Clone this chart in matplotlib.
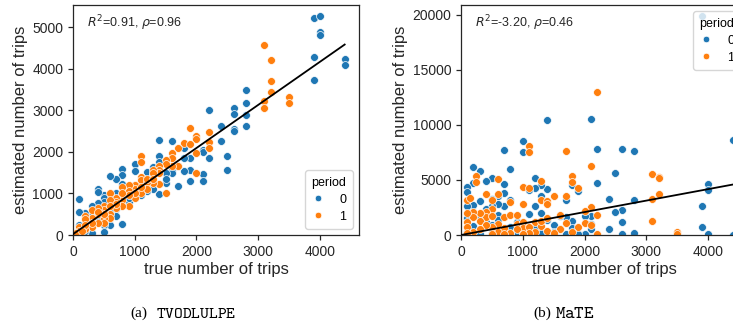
import numpy as np
import matplotlib.pyplot as plt

# left panel (TVODLULPE): true vs estimated trips, per period
left_true_p0 = [3900, 4000, 4000, 4000, 3900, 3900, 4400, 4400,
                2800, 2800, 2800, 2800, 2600, 2600, 2600, 2600, 2400, 2400, 2500, 2500,
                2200, 2200, 2100, 2100, 2100, 2100, 2000, 1900, 1900, 1900, 1800, 1800,
                1800, 1800, 1700, 1700, 1600, 1600, 1600, 1500, 1500, 1400, 1400, 1400,
                1400, 1300, 1300, 1300, 1200, 1200, 1200, 1100, 1000, 1000, 1000, 900,
                900, 800, 800, 800, 800, 700, 700, 700, 700, 600, 600, 600, 600, 500,
                500, 500, 500, 500, 400, 400, 400, 400, 300, 300, 300, 200, 200, 100,
                100, 100, 100, 200, 1300, 1500, 1100, 900, 700, 600, 300, 400]
left_est_p0 = [5210, 5260, 4880, 4800, 4270, 3720, 4240, 4100,
               3480, 3170, 2890, 2630, 3050, 2920, 2560, 2490, 2620, 2260, 1910, 1570,
               3000, 1850, 2040, 1990, 1460, 1290, 2330, 1840, 1570, 1290, 2160, 2100,
               1840, 1530, 1190, 1650, 2270, 1570, 1480, 1250, 1500, 2280, 1910, 1750,
               980, 1640, 1200, 1100, 1510, 1300, 1050, 1150, 1700, 1530, 1200, 1010,
               800, 1590, 1440, 1230, 270, 1340, 1020, 620, 450, 1410, 950, 720, 250, 950,
               880, 800, 250, 80, 1100, 1040, 780, 400, 700, 500, 50, 540, 300, 870,
               550, 250, 100, 100, 1450, 1350, 950, 900, 850, 600, 300, 550]
left_true_p1 = [3100, 3200, 3200, 3200, 3100, 3100, 3500, 3500,
                1900, 2200, 2200, 2200, 2000, 2000, 2000, 2000, 1800, 1900, 1700, 1700,
                1600, 1600, 1600, 1500, 1500, 1500, 1400, 1400, 1400, 1400, 1300, 1300,
                1300, 1100, 1100, 1100, 1100, 1100, 1200, 1200, 1000, 1000, 1000, 900,
                900, 900, 800, 800, 800, 800, 700, 700, 700, 600, 600, 600, 600, 500,
                500, 500, 500, 400, 400, 400, 300, 300, 300, 200, 200, 200, 100, 100,
                50, 1200, 1000, 900, 800, 700, 600, 500, 400, 300, 200, 150, 1300, 1100]
left_est_p1 = [4560, 4220, 3700, 3440, 3220, 3060, 3320, 3170,
               2580, 2480, 2240, 2100, 2390, 2300, 1960, 1480, 2210, 2190, 2100, 1660,
               1980, 1850, 1650, 1800, 1700, 1000, 1650, 1560, 1480, 1220, 1560, 1480,
               1240, 1900, 1750, 1400, 1320, 1000, 1270, 1100, 1200, 1100, 900, 1200,
               1050, 700, 1150, 950, 830, 700, 900, 800, 650, 1020, 850, 500, 400, 700,
               600, 400, 300, 650, 500, 300, 600, 400, 200, 450, 380, 150, 200, 100,
               50, 1350, 1000, 950, 1000, 750, 700, 500, 550, 300, 250, 100, 1350, 1150]
left_line_x = [0, 4400]
left_line_y = [20, 4580]

# right panel (MaTE)
right_true_p0 = [3900, 4400, 4000, 4000, 4000, 3900, 3900, 4400,
                 2800, 2800, 2800, 2600, 2600, 2600, 2600, 2500, 2500, 2400, 2400,
                 2200, 2200, 2100, 2100, 2100, 2100, 2000, 2000, 1900, 1800, 1800, 1800,
                 1800, 1700, 1700, 1600, 1600, 1400, 1400, 1400, 1300, 1300, 1300, 1200,
                 1200, 1200, 1100, 1100, 1000, 1000, 900, 800, 800, 700, 700, 700, 700,
                 600, 600, 500, 500, 500, 400, 400, 300, 300, 300, 200, 200, 200, 100,
                 100, 100, 100, 200, 300, 400, 500, 600, 700, 800, 900, 1000, 1200, 1500,
                 1500, 1700, 1900, 600, 100, 300, 500, 800, 1100, 1300]
right_est_p0 = [19850, 8600, 4650, 4050, 50, 2650, 700, 0,
                7600, 3200, 200, 7800, 2300, 1200, 50, 5600, 2100, 3300, 500,
                7800, 4700, 10500, 1700, 1000, 500, 1700, 50, 4000, 4500, 1300, 600,
                200, 3200, 1600, 1700, 500, 10450, 4200, 1400, 4500, 3500, 2000, 5200,
                4300, 2600, 1900, 4100, 8500, 7500, 1200, 6000, 3200, 7700, 4600, 3800, 2600,
                3500, 2800, 5200, 3300, 2600, 4900, 2400, 5800, 3100, 1500, 6200, 4700, 2700, 4400,
                3900, 2600, 1500, 800, 500, 1200, 900, 1800, 400, 700, 300, 200, 600, 900,
                300, 100, 100, 1400, 300, 100, 200, 100, 300, 200]
right_true_p1 = [2200, 1100, 1100, 1700, 2100, 1700, 1800, 1800, 1900, 3100, 3200,
                 3200, 3200, 3100, 3100, 3500, 3500, 2200, 2200, 2100, 2000, 2000, 2100,
                 1900, 1300, 1300, 1400, 1400, 1000, 1100, 1000, 1200, 1500, 1600, 1600,
                 1700, 1800, 600, 600, 500, 500, 400, 400, 400, 300, 300, 250, 250, 200,
                 200, 100, 100, 100, 100, 150, 700, 800, 800, 900, 900, 1000, 1000, 700,
                 600, 500, 500, 400, 300, 200, 100, 600, 800, 900, 1100, 1200, 1300, 1400,
                 1300, 1500, 1100, 1400, 1000, 700, 500]
right_est_p1 = [13000, 8100, 7500, 7600, 6300, 3500, 5400, 4800, 4300, 5500, 5300,
                5150, 3700, 3300, 1300, 300, 50, 1800, 100, 2500, 2200, 1100, 900,
                700, 4900, 3200, 3100, 2800, 4400, 4300, 2800, 1200, 3500, 1800, 500,
                1100, 300, 5100, 3700, 3200, 2400, 3700, 2100, 1600, 2000, 1300, 5400, 4800, 2100,
                1600, 3200, 2000, 1200, 700, 3400, 1600, 1800, 3000, 1800, 1000, 1200, 600, 600,
                1000, 1700, 700, 900, 500, 300, 200, 300, 200, 500, 700, 300, 800, 400,
                1300, 200, 200, 1500, 100, 100, 100]
right_line_x = [0, 4400]
right_line_y = [0, 4580]

blue = '#1f77b4'
orange = '#ff7f0e'
spine = '#262626'

plt.rcParams['font.family'] = ['Liberation Sans', 'DejaVu Sans']

fig = plt.figure(figsize=(7.33, 3.29), dpi=100)
ax1 = fig.add_axes([0.0996, 0.2857, 0.390, 0.699])
ax2 = fig.add_axes([0.629, 0.2857, 0.390, 0.699])


def draw(ax, t0, e0, t1, e1, lx, ly, ylim, yticks, label, legend_loc):
    ax.scatter(t0, e0, s=32, color=blue, edgecolor='white', linewidth=0.5, label='0', zorder=2)
    ax.scatter(t1, e1, s=32, color=orange, edgecolor='white', linewidth=0.5, label='1', zorder=2)
    ax.plot(lx, ly, color='black', linewidth=1.3, zorder=3)
    ax.set_xlim(0, 4630)
    ax.set_ylim(0, ylim)
    ax.set_xticks([0, 1000, 2000, 3000, 4000])
    ax.set_yticks(yticks)
    ax.tick_params(labelsize=10, length=3.5, width=0.9, color=spine, labelcolor=spine)
    for s in ax.spines.values():
        s.set_color(spine)
        s.set_linewidth(0.9)
    ax.set_xlabel('true number of trips', fontsize=12, color=spine, labelpad=2)
    ax.set_ylabel('estimated number of trips', fontsize=12, color=spine, labelpad=3)
    ax.text(0.05, 0.92, label, transform=ax.transAxes, fontsize=9, color=spine, va='center')
    leg = ax.legend(title='period', loc=legend_loc, fontsize=9, title_fontsize=9,
                    handlelength=1.0, handletextpad=1.2, borderpad=0.5, labelspacing=0.4,
                    scatteryoffsets=[0.5], alignment='left')
    for h in leg.legend_handles:
        h.set_sizes([22])
    leg.get_frame().set_edgecolor('#cccccc')


draw(ax1, left_true_p0, left_est_p0, left_true_p1, left_est_p1, left_line_x, left_line_y,
     5530, [0, 1000, 2000, 3000, 4000, 5000], r'$R^2$=0.91, $\rho$=0.96', 'lower right')
draw(ax2, right_true_p0, right_est_p0, right_true_p1, right_est_p1, right_line_x, right_line_y,
     20880, [0, 5000, 10000, 15000, 20000], r'$R^2$=-3.20, $\rho$=0.46', 'upper right')

# sub-captions
cap_y = 1 - 313 / 329
fig.text(130 / 733, cap_y, '(a)', family='Liberation Serif', fontsize=11, va='center')
fig.text(156 / 733, cap_y, r'$\mathtt{TVODLULPE}$', math_fontfamily='cm', fontsize=12, va='center')
fig.text(533 / 733, cap_y, '(b)', family='Liberation Serif', fontsize=11, va='center')
fig.text(555 / 733, cap_y, r'$\mathtt{MaTE}$', math_fontfamily='cm', fontsize=13, va='center')

fig.savefig('out.png', dpi=100)
